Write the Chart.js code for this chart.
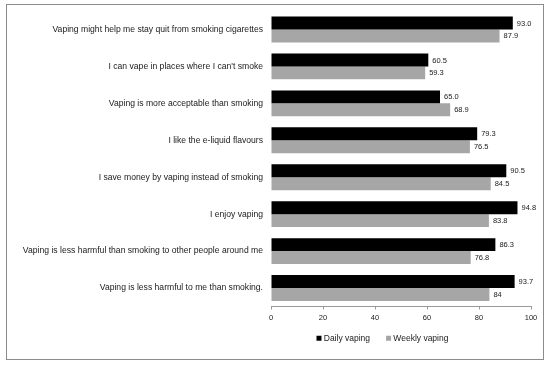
<!DOCTYPE html>
<html>
<head>
<meta charset="utf-8">
<script src="https://cdn.jsdelivr.net/npm/chart.js@4"></script>
<style>
  body { margin: 0; background: #fff; }
  #frame {
    position: absolute; left: 6px; top: 4px;
    width: 536px; height: 354px;
    border: 1px solid #8c8c8c;
  }
</style>
</head>
<body>
<div id="frame"><canvas id="barChart"></canvas></div>
<script>
// Categories, top to bottom
const statements = [
  "Vaping might help me stay quit from smoking cigarettes",
  "I can vape in places where I can't smoke",
  "Vaping is more acceptable than smoking",
  "I like the e-liquid flavours",
  "I save money by vaping instead of smoking",
  "I enjoy vaping",
  "Vaping is less harmful than smoking to other people around me",
  "Vaping is less harmful to me than smoking."
];

// Percent agreeing
const daily = [93.0, 60.5, 65.0, 79.3, 90.5, 94.8, 86.3, 93.7];
const weekly = [87.9, 59.3, 68.9, 76.5, 84.5, 83.8, 76.8, 84];

// Value labels as printed in the chart
const dailyText = ["93.0", "60.5", "65.0", "79.3", "90.5", "94.8", "86.3", "93.7"];
const weeklyText = ["87.9", "59.3", "68.9", "76.5", "84.5", "83.8", "76.8", "84"];

const xTicks = [0, 20, 40, 60, 80, 100];

const fontFamily = "'Liberation Sans', Arial, sans-serif";
Chart.defaults.font.family = fontFamily;
Chart.defaults.color = "#1a1a1a";

// draw the number next to the end of each bar
const valueLabels = {
  id: "valueLabels",
  afterDatasetsDraw(chart) {
    const ctx = chart.ctx;
    const texts = [dailyText, weeklyText];
    ctx.save();
    ctx.font = "7.5px " + fontFamily;
    ctx.fillStyle = "#1a1a1a";
    ctx.textAlign = "left";
    ctx.textBaseline = "middle";
    chart.data.datasets.forEach((ds, i) => {
      chart.getDatasetMeta(i).data.forEach((bar, j) => {
        ctx.fillText(texts[i][j], bar.x + 4, bar.y + 0.5);
      });
    });
    ctx.restore();
  }
};

// legend sits a bit left of the plot centre and close under the axis
const legendPlace = {
  id: "legendPlace",
  afterLayout(chart) {
    const lg = chart.legend;
    if (!lg) return;
    const pad = lg.options.labels.padding;
    const h = lg.height;
    lg.left = 311.5 - pad;
    lg.right = chart.width;
    lg.top = 311;
    lg.bottom = lg.top + h;
  }
};

const ctx = document.getElementById("barChart").getContext("2d");
new Chart(ctx, {
  type: "bar",
  data: {
    labels: statements,
    datasets: [
      {
        label: "Daily vaping",
        data: daily,
        backgroundColor: "#000000",
        categoryPercentage: 0.7,
        barPercentage: 1.0
      },
      {
        label: "Weekly vaping",
        data: weekly,
        backgroundColor: "#a6a6a6",
        categoryPercentage: 0.7,
        barPercentage: 1.0
      }
    ]
  },
  options: {
    indexAxis: "y",
    responsive: true,
    maintainAspectRatio: false,
    animation: false,
    layout: { padding: { left: 0, right: 12, top: 6, bottom: -4 } },
    scales: {
      x: {
        min: 0,
        max: 100,
        afterBuildTicks: (scale) => {
          scale.ticks = xTicks.map((v) => ({ value: v }));
        },
        grid: { drawOnChartArea: false, drawTicks: true, tickLength: 3, color: "#999999" },
        border: { display: true, color: "#999999" },
        ticks: { font: { size: 7.5 }, padding: 4, maxRotation: 0 }
      },
      y: {
        grid: { display: false, drawTicks: false },
        border: { display: false },
        ticks: { font: { size: 8.6 }, padding: 8, autoSkip: false },
        afterFit: (scale) => {
          scale.width = 264;
          scale.paddingTop = 0;
          scale.paddingBottom = 0;
        }
      }
    },
    plugins: {
      legend: {
        position: "bottom",
        align: "start",
        labels: {
          usePointStyle: true,
          pointStyle: "rect",
          boxWidth: 1,
          boxHeight: 5,
          padding: 18,
          font: { size: 8.5 }
        }
      },
      tooltip: { enabled: false }
    }
  },
  plugins: [valueLabels, legendPlace]
});
</script>
</body>
</html>
